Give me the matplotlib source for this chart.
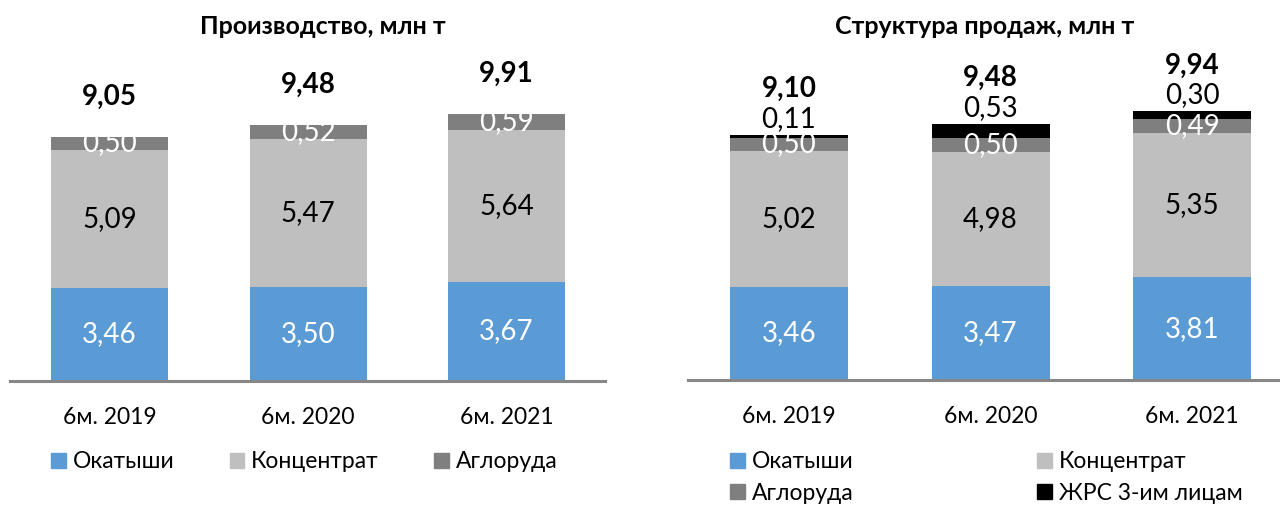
import matplotlib.pyplot as plt
from matplotlib.patches import Patch

plt.rcParams['font.family'] = ['Lato', 'DejaVu Sans']

# данные
periods = ['6м. 2019', '6м. 2020', '6м. 2021']

prod_pellets = [3.46, 3.50, 3.67]
prod_conc = [5.09, 5.47, 5.64]
prod_sinter = [0.50, 0.52, 0.59]
prod_total = [9.05, 9.48, 9.91]

sales_pellets = [3.46, 3.47, 3.81]
sales_conc = [5.02, 4.98, 5.35]
sales_sinter = [0.50, 0.50, 0.49]
sales_dri = [0.11, 0.53, 0.30]
sales_total = [9.10, 9.48, 9.94]

C_BLUE = '#5B9BD5'
C_LIGHT = '#BFBFBF'
C_DARK = '#7F7F7F'
C_BLACK = '#000000'

W, H = 1280, 505
PX_PER_UNIT = 27.0


def fmt(v):
    return f'{v:.2f}'.replace('.', ',')


def make_axes(fig, x0, x1, base_y, centers_px):
    ax = fig.add_axes([x0 / W, (H - base_y) / H, (x1 - x0) / W, base_y / H])
    step = centers_px[1] - centers_px[0]
    ax.set_xlim((x0 - centers_px[0]) / step, (x1 - centers_px[0]) / step)
    ax.set_ylim(0, base_y / PX_PER_UNIT)
    for s in ['top', 'right', 'left']:
        ax.spines[s].set_visible(False)
    ax.spines['bottom'].set_color('#878787')
    ax.spines['bottom'].set_linewidth(2.2)
    ax.set_yticks([])
    ax.set_xticks(range(len(periods)))
    ax.set_xticklabels(periods, fontsize=16.5)
    ax.tick_params(axis='x', length=0, pad=19)
    return ax, step


def stack(ax, series, colors, text_colors, width):
    x = list(range(len(periods)))
    bottom = [0.0] * len(periods)
    for vals, col, tcol in zip(series, colors, text_colors):
        ax.bar(x, vals, width, bottom=bottom, color=col, edgecolor='none')
        if tcol is not None:
            for i, v in enumerate(vals):
                ax.text(i, bottom[i] + v / 2, fmt(v), ha='center', va='center',
                        color=tcol, fontsize=20)
        bottom = [b + v for b, v in zip(bottom, vals)]
    return bottom


fig = plt.figure(figsize=(W / 100, H / 100), dpi=100)

# Производство
ax1, st1 = make_axes(fig, 10, 605, 381, [109.5, 308, 507])
w1 = 117 / st1
tops1 = stack(ax1, [prod_pellets, prod_conc, prod_sinter],
              [C_BLUE, C_LIGHT, C_DARK], ['white', 'black', 'white'], w1)
for i, t in enumerate(prod_total):
    ax1.annotate(fmt(t), (i, tops1[i]), xytext=(0, 29), textcoords='offset points',
                 ha='center', va='center', fontsize=20, fontweight='bold')
fig.text(323 / W, 1 - 27 / H, 'Производство, млн т', ha='center', va='center',
         fontsize=18, fontweight='bold')

# Структура продаж
ax2, st2 = make_axes(fig, 688, 1280, 380, [789, 990.5, 1192])
w2 = 118 / st2
tops2 = stack(ax2, [sales_pellets, sales_conc, sales_sinter, sales_dri],
              [C_BLUE, C_LIGHT, C_DARK, C_BLACK], ['white', 'black', 'white', None], w2)
for i, v in enumerate(sales_dri):
    ax2.annotate(fmt(v), (i, tops2[i]), xytext=(0, 11.5), textcoords='offset points',
                 ha='center', va='center', fontsize=20)
for i, t in enumerate(sales_total):
    ax2.annotate(fmt(t), (i, tops2[i]), xytext=(0, 33), textcoords='offset points',
                 ha='center', va='center', fontsize=20, fontweight='bold')
fig.text(985 / W, 1 - 27 / H, 'Структура продаж, млн т', ha='center', va='center',
         fontsize=18, fontweight='bold')

# легенды
h_p = Patch(color=C_BLUE, label='Окатыши')
h_c = Patch(color=C_LIGHT, label='Концентрат')
h_s = Patch(color=C_DARK, label='Аглоруда')
h_d = Patch(color=C_BLACK, label='ЖРС 3-им лицам')

leg_kw = dict(frameon=False, fontsize=16.5, handlelength=0.65, handleheight=0.65,
              handletextpad=0.3, borderaxespad=0, borderpad=0)
fig.legend(handles=[h_p, h_c, h_s], loc='center left', ncol=3,
           bbox_to_anchor=(51 / W, 1 - 462 / H), columnspacing=2.4, **leg_kw)
fig.legend(handles=[h_p, h_s, h_c, h_d], loc='center left', ncol=2,
           bbox_to_anchor=(730 / W, 1 - 477.5 / H), columnspacing=8.0,
           labelspacing=0.45, **leg_kw)

fig.savefig('out.png', dpi=100)
